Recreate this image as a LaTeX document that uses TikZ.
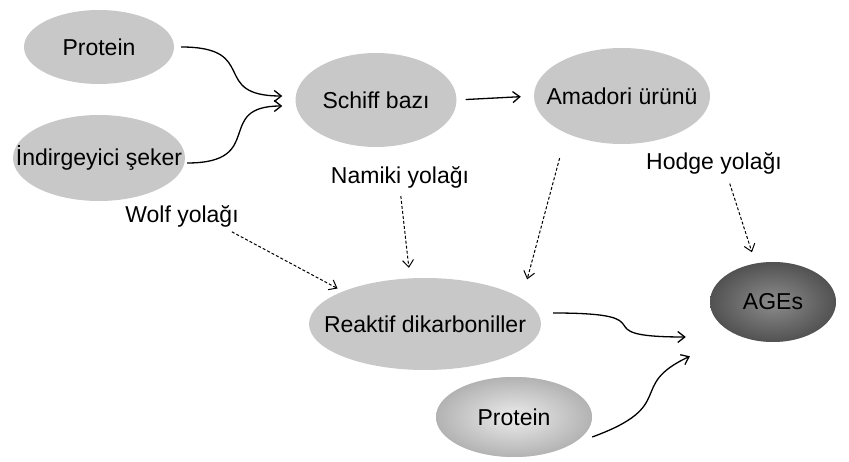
\documentclass[tikz,border=0pt]{standalone}
\usepackage{fontspec}
\setmainfont{Liberation Sans}
\usepackage{tikz}
\usetikzlibrary{arrows.meta, shapes.geometric}

\definecolor{ovalgray}{HTML}{C8C8C8}

\begin{document}
\begin{tikzpicture}[
  x=1pt, y=-1pt,
  >={Straight Barb[length=7pt, width=11pt]},
  blob/.style={ellipse, draw=none, fill=ovalgray, inner xsep=-30pt,
    inner ysep=0pt, minimum width=#1, font=\fontsize{23}{27}\selectfont},
  blob/.default={160pt},
  lbl/.style={font=\fontsize{23}{27}\selectfont, inner sep=1pt},
  arr/.style={->, line width=1.3pt},
  darr/.style={->, line width=1pt, dash pattern=on 3pt off 2pt},
]
\useasboundingbox (0,0) rectangle (849,462);

% --- Early glycation ---
\node[blob=150pt, minimum height=74pt] (prot) at (99,47) {Protein};
\node[blob=172pt, minimum height=86pt] (seker) at (99,158) {İndirgeyici şeker};
\node[blob=161pt, minimum height=94pt] (schiff) at (376,100) {Schiff bazı};
\node[blob=176pt, minimum height=96pt] (amad) at (622,96) {Amadori ürünü};

\draw[arr, shorten <=7pt, shorten >=13pt] (prot.east)
  to[out=0, in=180, looseness=1.7] ([yshift=4pt]schiff.west);
\draw[arr, shorten <=2pt, shorten >=13pt] ([yshift=-5pt]seker.east)
  to[out=0, in=180, looseness=1.7] ([yshift=-6pt]schiff.west);
\draw[arr, shorten <=9pt, shorten >=13pt] (schiff.east) -- (amad.west);

% --- Pathways ---
\node[lbl] (namiki) at (400,177) {Namiki yolağı};
\node[lbl] (wolf) at (182,216) {Wolf yolağı};
\node[lbl] (hodge) at (714,163) {Hodge yolağı};

\node[blob=232pt, minimum height=92pt] (reak) at (425,324) {Reaktif dikarboniller};

\draw[darr, shorten <=7pt, shorten >=10pt] (namiki.south)
  -- ([xshift=-15pt]reak.north);
\draw[darr, shorten <=8pt, shorten >=6pt] ([xshift=-15pt]wolf.south east)
  -- (reak.north west);
\draw[darr] ([yshift=-28pt]amad.south west)
  -- ([xshift=20pt, yshift=12pt]reak.north east);

% --- AGEs ---
\node[blob=156pt, minimum height=80pt, shading=radial,
  inner color=gray!15, outer color=gray!60] (prot2) at (514,417) {Protein};
\node[blob=126pt, minimum height=80pt, shading=radial,
  inner color=black!45, outer color=black!68] (ages) at (773,302) {AGEs};

\draw[darr, shorten <=9pt, shorten >=10pt] ([xshift=13pt]hodge.south)
  -- ([xshift=-18pt]ages.north);
\draw[arr, shorten <=12pt, shorten >=24pt] ([yshift=11pt]reak.east)
  to[out=0, in=180, looseness=2] ([yshift=-35pt]ages.west);
\draw[arr, shorten >=22pt] ([yshift=-20pt]prot2.east)
  to[out=20, in=205, looseness=1.6] ([yshift=-45pt]ages.west);

\end{tikzpicture}
\end{document}
